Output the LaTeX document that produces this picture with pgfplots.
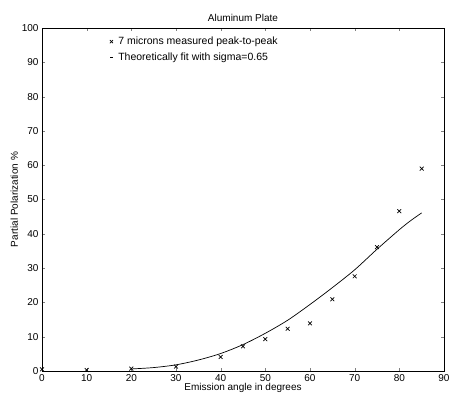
\documentclass[border=0pt]{standalone}
\usepackage{pgfplots}
\pgfplotsset{compat=1.18}
\usepackage{fontspec}
\setmainfont{Liberation Sans}
\begin{document}
\begin{tikzpicture}
\useasboundingbox (-42pt,-29pt) rectangle (408pt,371pt);
\begin{axis}[
  scale only axis,
  width=402pt, height=343pt,
  xmin=0, xmax=90, ymin=0, ymax=100,
  xtick={0,10,...,90}, ytick={0,10,...,100},
  tick align=inside,
  tick pos=both,
  major tick length=3pt,
  /pgf/number format/assume math mode=true,
  tick label style={font=\fontsize{10}{12}\selectfont},
  title={Aluminum Plate},
  title style={font=\fontsize{10}{12}\selectfont, yshift=-3pt},
  xlabel={Emission angle in degrees},
  ylabel={Partial Polarization \%},
  label style={font=\fontsize{10}{12}\selectfont},
  xlabel style={yshift=5pt},
  ylabel style={yshift=-3pt},
  axis line style={line width=0.6pt},
  legend style={draw=none, fill=none, at={(axis cs:15,98)}, anchor=north west, font=\fontsize{10.5}{12}\selectfont, row sep=3pt, inner sep=0pt},
  legend cell align=left,
]
\addplot[only marks, mark=x, mark size=2.7pt, black, line width=0.7pt,
  legend image code/.code={\path[draw=none] (0,0) -- (0.25cm,0); \draw[mark=x, mark size=2.2pt, line width=0.6pt] plot coordinates {(0.08cm,0)};}]
  coordinates {
  (0,0.5) (10,0.3) (20,0.7) (30,1.3) (40,4.1) (45,7.2) (50,9.3) (55,12.3)
  (60,13.9) (65,20.9) (70,27.6) (75,36.1) (80,46.6) (85,59.0)
};
\addlegendentry{7 microns measured peak-to-peak}
\addplot[black, line width=0.7pt, smooth, no marks,
  legend image code/.code={\path[draw=none] (0,0) -- (0.25cm,0); \draw[line width=0.7pt] (0.04cm,0) -- (0.12cm,0);}]
  coordinates {
  (20,0.6) (25,1.0) (30,1.8) (35,3.2) (40,5.1) (45,7.7) (50,11.0) (55,14.8)
  (60,19.4) (65,24.3) (70,29.5) (75,35.5) (80,41.2) (82.5,43.8) (85,46.1)
};
\addlegendentry{Theoretically fit with sigma=0.65}
\end{axis}
\end{tikzpicture}
\end{document}
